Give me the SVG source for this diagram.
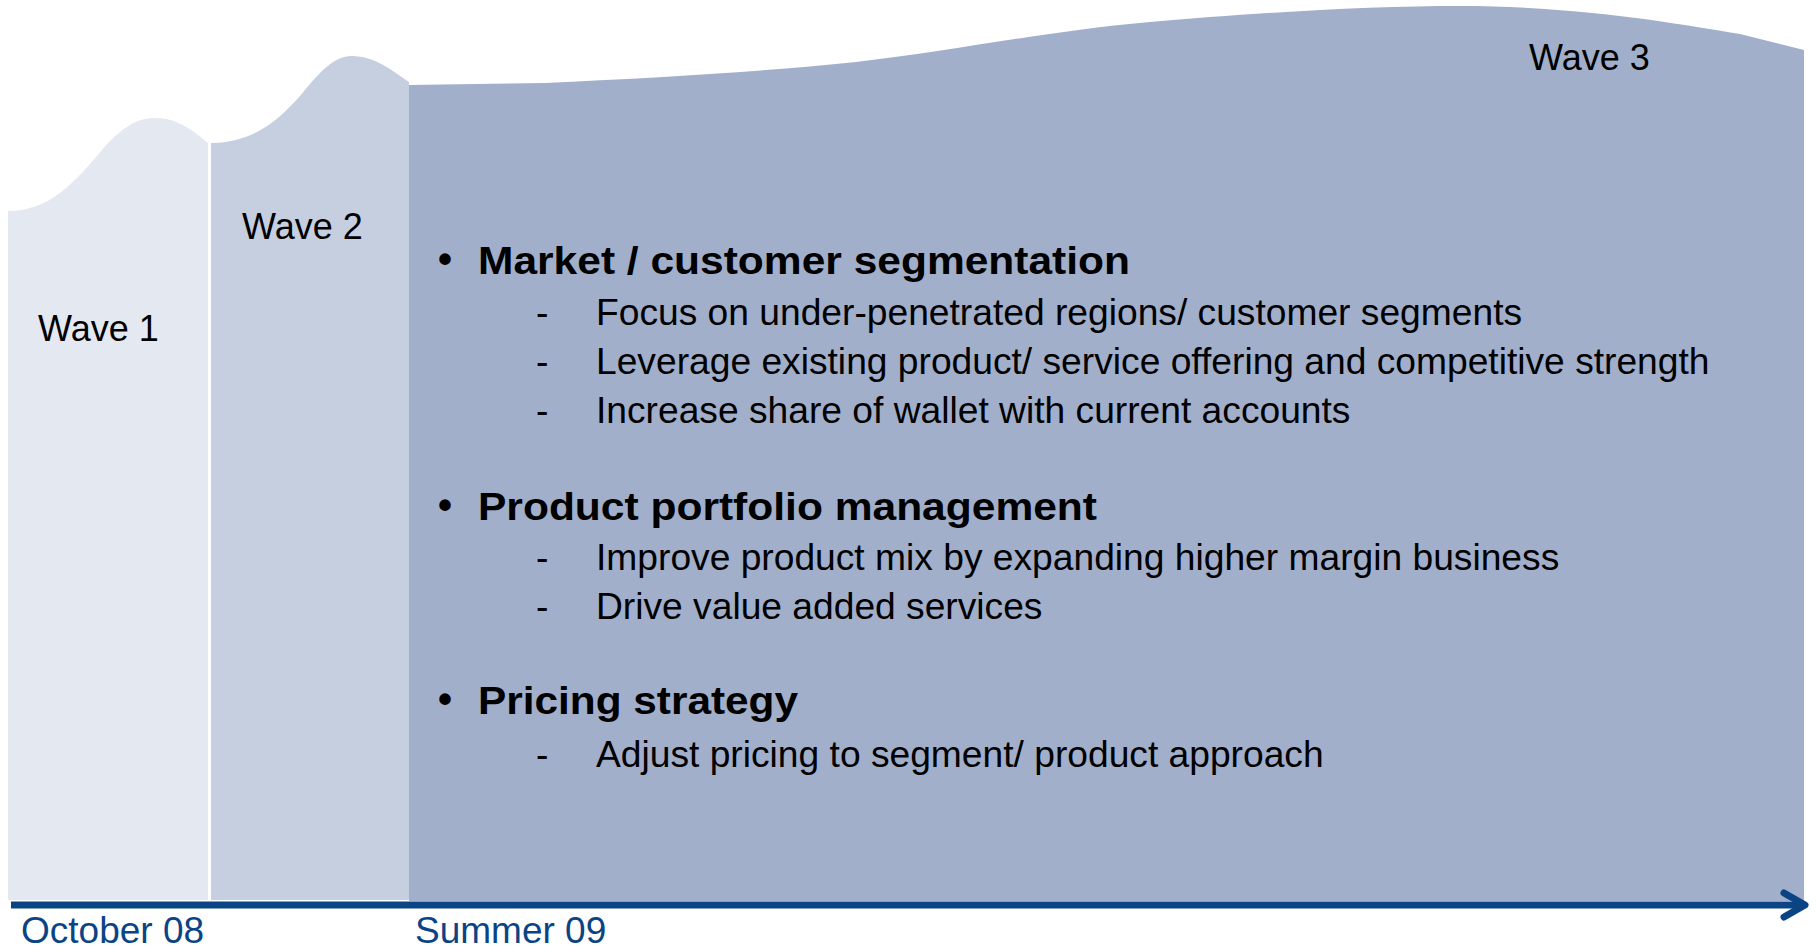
<svg xmlns="http://www.w3.org/2000/svg" width="1816" height="948" viewBox="0 0 1816 948">
<style>
.lbl{font-family:"Liberation Sans",Arial,sans-serif;font-size:36px;fill:#000}
.date{font-family:"Liberation Sans",Arial,sans-serif;font-size:37px;fill:#0B4485}
.h{font-family:"Liberation Sans",Arial,sans-serif;font-size:39px;font-weight:bold;fill:#000}
.b{font-family:"Liberation Sans",Arial,sans-serif;font-size:40px;font-weight:bold;fill:#000}
.s{font-family:"Liberation Sans",Arial,sans-serif;font-size:37.2px;fill:#000}
</style>
<defs>
<marker id="chev" markerUnits="userSpaceOnUse" markerWidth="34" markerHeight="34" refX="24" refY="17" orient="auto" viewBox="0 0 34 34">
<path d="M4,5 L25,17 L4,29" fill="none" stroke="#0B4485" stroke-width="7" stroke-linecap="round" stroke-linejoin="round"/>
</marker>
</defs>
<rect width="1816" height="948" fill="#fff"/>
<g id="wave1">
<path d="M8,211 C50,211 75,182 102,150 C122,127 137,118 155,118 C178,118 195,132 208,143 L208,900 L8,900 Z" fill="#E4E8F1"/>
<text class="lbl" x="38" y="341">Wave 1</text>
</g>
<g id="wave2">
<path d="M211,143 C255,143 280,118 300,96 C318,74 333,56 352,56 C374,56 392,70 409,82 L409,900 L211,900 Z" fill="#C6CFE0"/>
<text class="lbl" x="242" y="239">Wave 2</text>
</g>
<g id="wave3">
<path d="M409,85 L545,83 C650,78 760,72 856,62 C960,50 1040,32 1150,22 C1250,13 1370,6 1460,6 C1580,6 1680,24 1740,34 L1804,50 L1804,901 L409,901 Z" fill="#A1AFCB"/>
<text class="lbl" x="1529" y="70">Wave 3</text>
<text class="b" x="438" y="273">•</text>
<text class="h" x="478" y="274" textLength="652" lengthAdjust="spacingAndGlyphs">Market / customer segmentation</text>
<text class="s" x="536" y="325">-</text>
<text class="s" x="596" y="325">Focus on under-penetrated regions/ customer segments</text>
<text class="s" x="536" y="374">-</text>
<text class="s" x="596" y="374">Leverage existing product/ service offering and competitive strength</text>
<text class="s" x="536" y="423">-</text>
<text class="s" x="596" y="423">Increase share of wallet with current accounts</text>
<text class="b" x="438" y="519">•</text>
<text class="h" x="478" y="520" textLength="619" lengthAdjust="spacingAndGlyphs">Product portfolio management</text>
<text class="s" x="536" y="570">-</text>
<text class="s" x="596" y="570">Improve product mix by expanding higher margin business</text>
<text class="s" x="536" y="619">-</text>
<text class="s" x="596" y="619">Drive value added services</text>
<text class="b" x="438" y="713">•</text>
<text class="h" x="478" y="714" textLength="320" lengthAdjust="spacingAndGlyphs">Pricing strategy</text>
<text class="s" x="536" y="767">-</text>
<text class="s" x="596" y="767">Adjust pricing to segment/ product approach</text>
</g>
<g id="connectors">
<line x1="11" y1="905" x2="1804" y2="905" stroke="#0B4485" stroke-width="7" marker-end="url(#chev)"/>
</g>
<g id="axis-labels">
<text class="date" x="21" y="943">October 08</text>
<text class="date" x="415" y="943">Summer 09</text>
</g>
</svg>
